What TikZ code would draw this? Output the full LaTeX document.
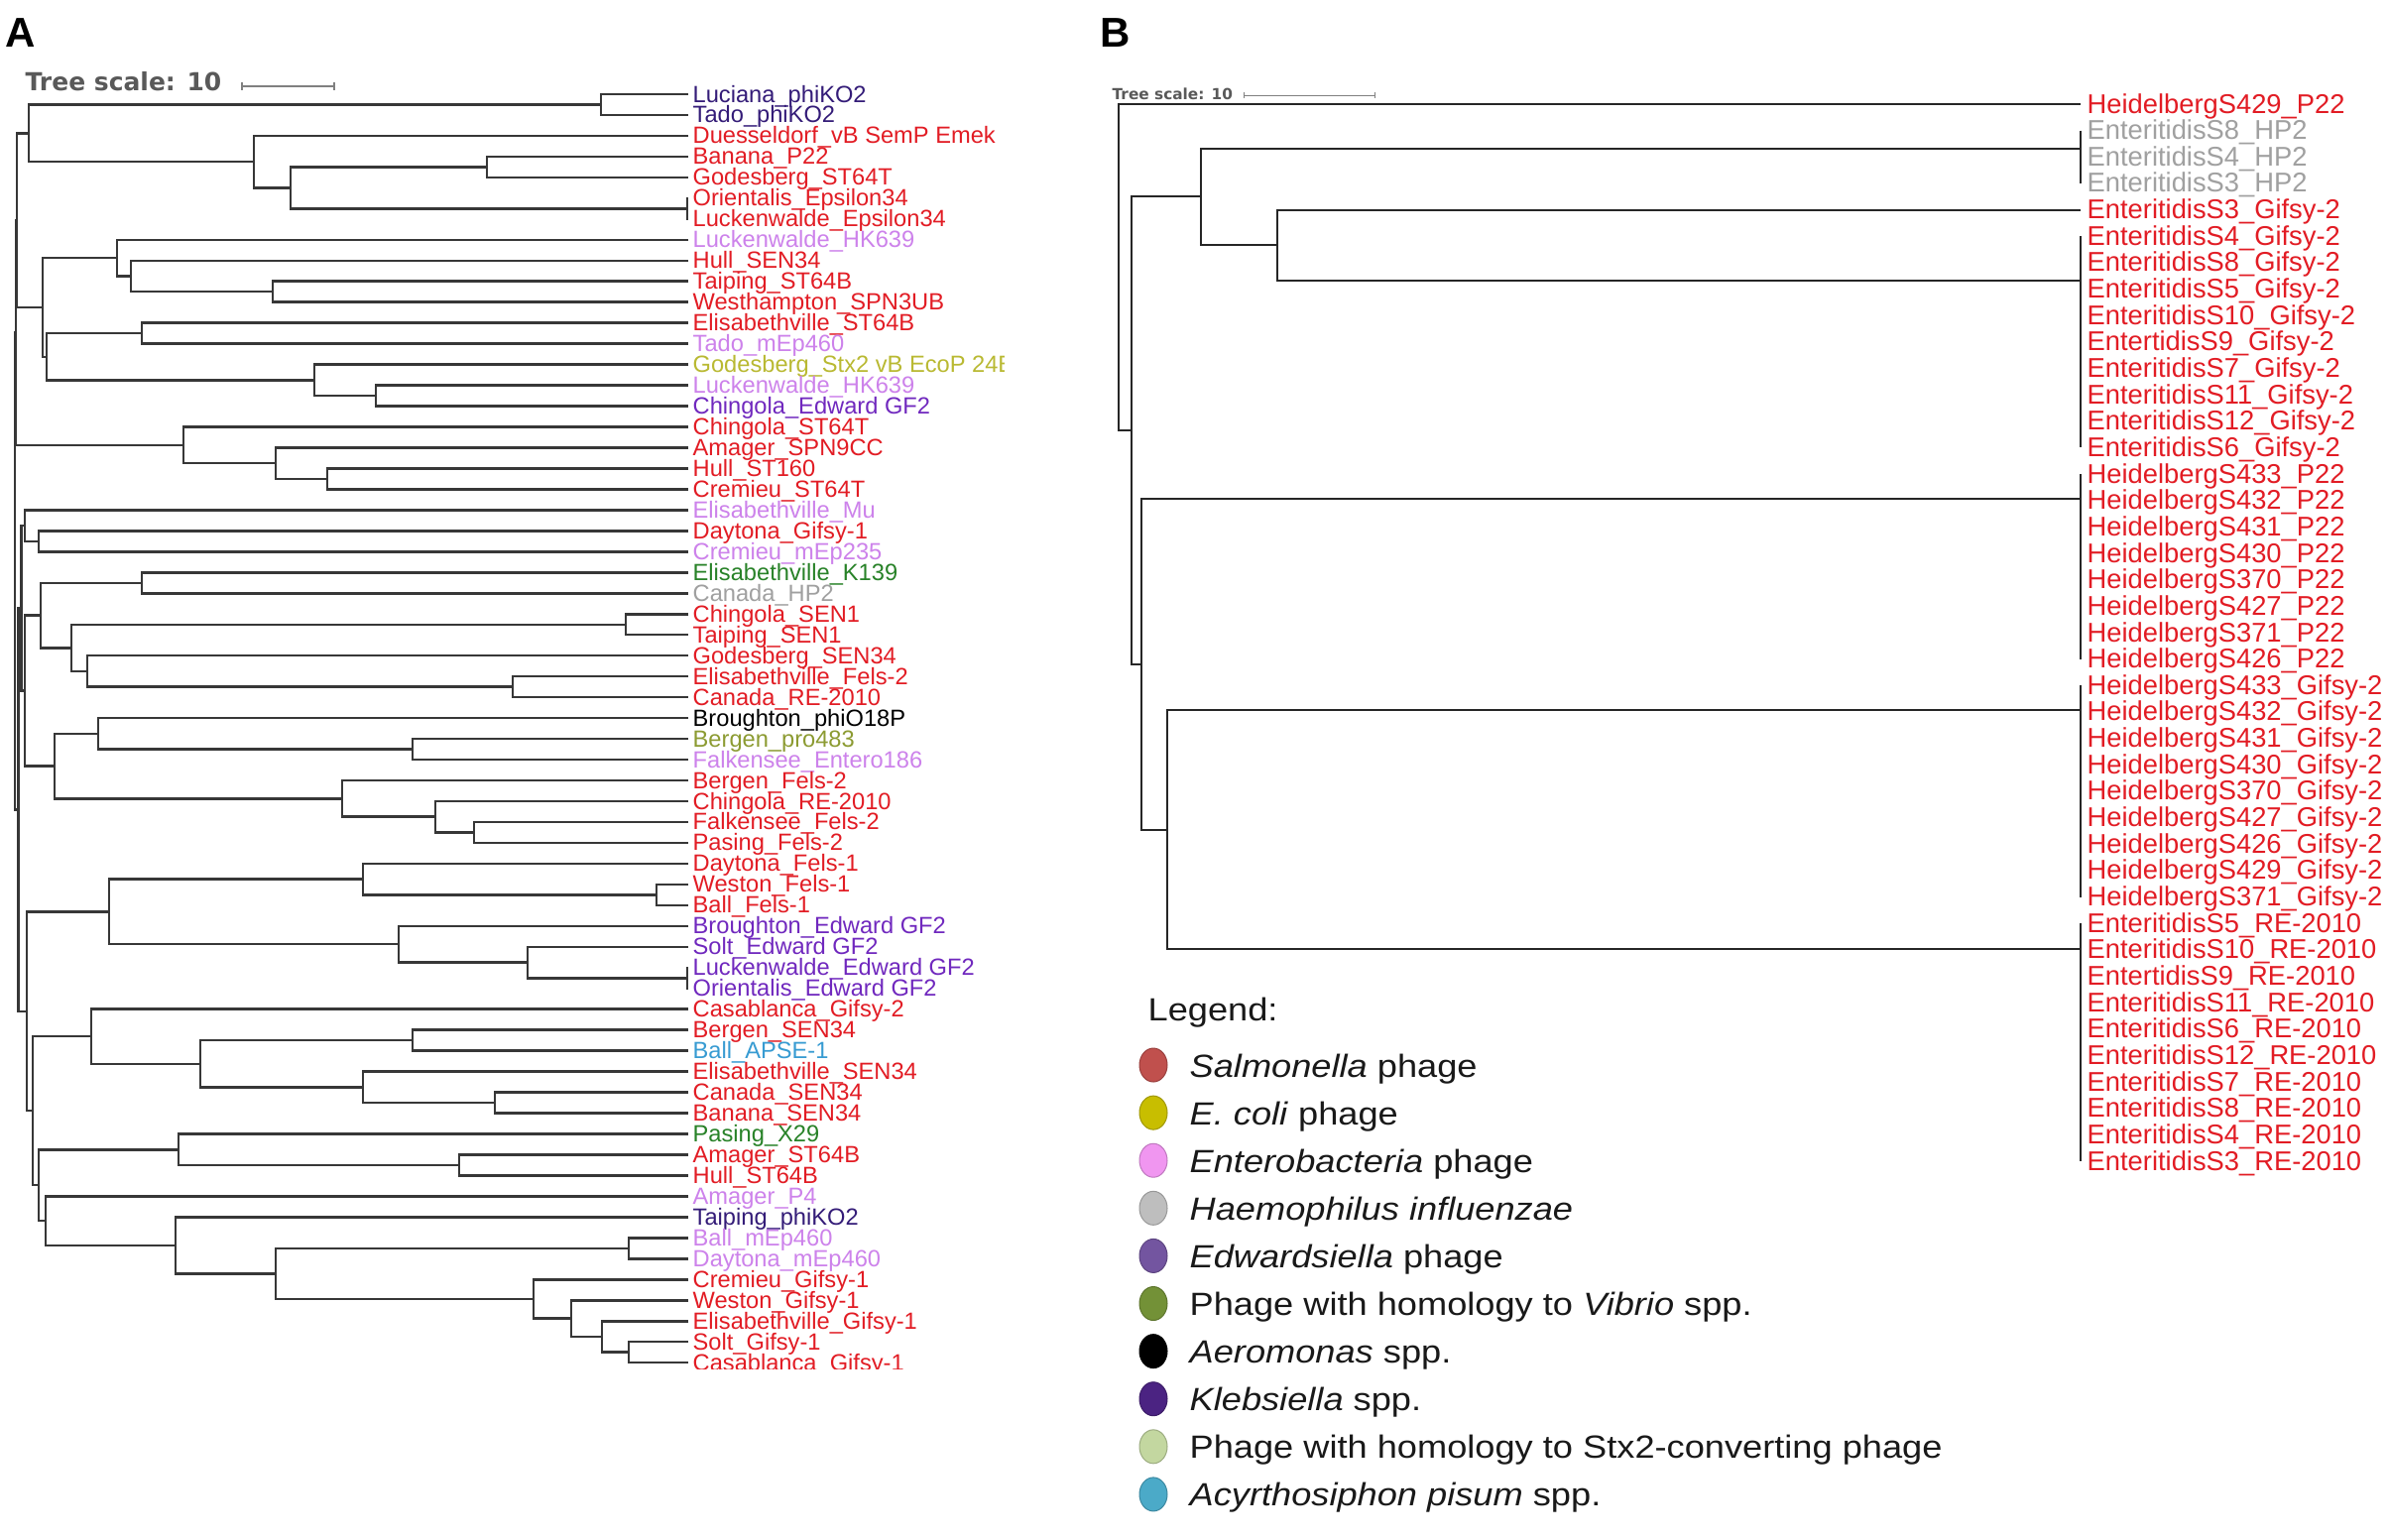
\documentclass[tikz,border=0pt]{standalone}
\usepackage{fontspec}
\setmainfont{Liberation Sans}
\newfontfamily\dejavu{DejaVu Sans}
\newfontfamily\legfont[FakeStretch=1.12]{Liberation Sans}
\usetikzlibrary{calc,shapes.geometric}
\definecolor{sal}{RGB}{226,28,36}
\definecolor{kleb}{RGB}{52,28,120}
\definecolor{ent}{RGB}{205,130,235}
\definecolor{ecol}{RGB}{185,185,50}
\definecolor{oliv}{RGB}{140,155,50}
\definecolor{edw}{RGB}{112,40,190}
\definecolor{vib}{RGB}{40,130,40}
\definecolor{hae}{RGB}{160,160,160}
\definecolor{aps}{RGB}{55,155,210}
\definecolor{brc}{RGB}{55,55,55}
\definecolor{dsal}{RGB}{192,80,77}
\definecolor{deco}{RGB}{200,190,0}
\definecolor{dent}{RGB}{240,150,240}
\definecolor{dhae}{RGB}{190,190,190}
\definecolor{dedw}{RGB}{115,85,160}
\definecolor{dvib}{RGB}{115,145,55}
\definecolor{dkle}{RGB}{75,35,130}
\definecolor{dstx}{RGB}{195,215,160}
\definecolor{dacy}{RGB}{75,170,200}
\tikzset{
 brA/.style={draw=brc, line width=0.75pt},
 brB/.style={draw=black!85, line width=0.6pt},
 labA/.style={anchor=base west, inner sep=0pt, font=\fontsize{7.1}{8}\selectfont},
 labB/.style={anchor=base west, inner sep=0pt, font=\fontsize{8.2}{9}\selectfont},
 legtxt/.style={anchor=base west, inner sep=0pt, text=black!90, font=\legfont\fontsize{9.7}{11}\selectfont},
 dot/.style={ellipse, inner sep=0pt, minimum width=8.4pt, minimum height=10.2pt},
 tsc/.style={anchor=base west, inner sep=0pt, text=black!65, font=\dejavu\bfseries\fontsize{#1}{#1}\selectfont},
 sbar/.style={draw=black!50, line width=0.45pt},
 panel/.style={anchor=base west, inner sep=0pt, font=\bfseries\fontsize{12.6}{14}\selectfont},
}
\newcommand\tnd[4]{\path let \p1=(#3), \p2=(#4) in coordinate (#1) at ({#2*0.3pt},{(\y1+\y2)/2});\draw[brA] (#3) -| (#1) |- (#4);}
\newcommand\lfA[4]{\coordinate (#1) at (694,{95+(#2-1)*20.97});\node[labA,text=#4] (#1t) at (698,{103+(#2-1)*20.97}) {#3};}
\newcommand\lfB[4]{\coordinate (#1) at (2098,{105+(#2-1)*26.65});\node[labB,text=#4] (#1t) at (2104,{114+(#2-1)*26.65}) {#3};}
\newcommand\legrow[4]{\node[dot,fill=#3,draw=#3!80!black,line width=0.3pt] (#1d) at (1163,{1074+(#2-1)*48.1}) {};\node[legtxt] (#1t) at (1199,{1086+(#2-1)*48.1}) {#4};}
\begin{document}
\begin{tikzpicture}[x=0.3pt,y=-0.3pt]
\fill[white] (0,0) rectangle (2408,1552);
\useasboundingbox (0,0) rectangle (2408,1552);
% panel letters
\node[panel] (pA) at (5,47) {A};
\node[panel] (pB) at (1109,47) {B};
% tree scale A
\node[tsc=7.5] (tsA) at (25,91) {Tree scale: 10};
\coordinate (tsA1) at (244,87); \coordinate (tsA2) at (337,87);
\draw[sbar] (tsA1) -- (tsA2);
\draw[sbar] ($(tsA1)+(0,-4)$) -- ($(tsA1)+(0,4)$);
\draw[sbar] ($(tsA2)+(0,-4)$) -- ($(tsA2)+(0,4)$);
% tree scale B
\node[tsc=4.6] (tsB) at (1121,100) {Tree scale: 10};
\coordinate (tsB1) at (1254,96); \coordinate (tsB2) at (1386,96);
\draw[sbar,line width=0.3pt] (tsB1) -- (tsB2);
\draw[sbar,line width=0.3pt] ($(tsB1)+(0,-3)$) -- ($(tsB1)+(0,3)$);
\draw[sbar,line width=0.3pt] ($(tsB2)+(0,-3)$) -- ($(tsB2)+(0,3)$);
% ---------------- panel A leaves
\begin{scope}
\clip (690,55) rectangle (1012,1380);
\lfA{a1}{1}{Luciana\_phiKO2}{kleb}
\lfA{a2}{2}{Tado\_phiKO2}{kleb}
\lfA{a3}{3}{Duesseldorf\_vB SemP Emek}{sal}
\lfA{a4}{4}{Banana\_P22}{sal}
\lfA{a5}{5}{Godesberg\_ST64T}{sal}
\lfA{a6}{6}{Orientalis\_Epsilon34}{sal}
\lfA{a7}{7}{Luckenwalde\_Epsilon34}{sal}
\lfA{a8}{8}{Luckenwalde\_HK639}{ent}
\lfA{a9}{9}{Hull\_SEN34}{sal}
\lfA{a10}{10}{Taiping\_ST64B}{sal}
\lfA{a11}{11}{Westhampton\_SPN3UB}{sal}
\lfA{a12}{12}{Elisabethville\_ST64B}{sal}
\lfA{a13}{13}{Tado\_mEp460}{ent}
\lfA{a14}{14}{Godesberg\_Stx2 vB EcoP 24B}{ecol}
\lfA{a15}{15}{Luckenwalde\_HK639}{ent}
\lfA{a16}{16}{Chingola\_Edward GF2}{edw}
\lfA{a17}{17}{Chingola\_ST64T}{sal}
\lfA{a18}{18}{Amager\_SPN9CC}{sal}
\lfA{a19}{19}{Hull\_ST160}{sal}
\lfA{a20}{20}{Cremieu\_ST64T}{sal}
\lfA{a21}{21}{Elisabethville\_Mu}{ent}
\lfA{a22}{22}{Daytona\_Gifsy-1}{sal}
\lfA{a23}{23}{Cremieu\_mEp235}{ent}
\lfA{a24}{24}{Elisabethville\_K139}{vib}
\lfA{a25}{25}{Canada\_HP2}{hae}
\lfA{a26}{26}{Chingola\_SEN1}{sal}
\lfA{a27}{27}{Taiping\_SEN1}{sal}
\lfA{a28}{28}{Godesberg\_SEN34}{sal}
\lfA{a29}{29}{Elisabethville\_Fels-2}{sal}
\lfA{a30}{30}{Canada\_RE-2010}{sal}
\lfA{a31}{31}{Broughton\_phiO18P}{black}
\lfA{a32}{32}{Bergen\_pro483}{oliv}
\lfA{a33}{33}{Falkensee\_Entero186}{ent}
\lfA{a34}{34}{Bergen\_Fels-2}{sal}
\lfA{a35}{35}{Chingola\_RE-2010}{sal}
\lfA{a36}{36}{Falkensee\_Fels-2}{sal}
\lfA{a37}{37}{Pasing\_Fels-2}{sal}
\lfA{a38}{38}{Daytona\_Fels-1}{sal}
\lfA{a39}{39}{Weston\_Fels-1}{sal}
\lfA{a40}{40}{Ball\_Fels-1}{sal}
\lfA{a41}{41}{Broughton\_Edward GF2}{edw}
\lfA{a42}{42}{Solt\_Edward GF2}{edw}
\lfA{a43}{43}{Luckenwalde\_Edward GF2}{edw}
\lfA{a44}{44}{Orientalis\_Edward GF2}{edw}
\lfA{a45}{45}{Casablanca\_Gifsy-2}{sal}
\lfA{a46}{46}{Bergen\_SEN34}{sal}
\lfA{a47}{47}{Ball\_APSE-1}{aps}
\lfA{a48}{48}{Elisabethville\_SEN34}{sal}
\lfA{a49}{49}{Canada\_SEN34}{sal}
\lfA{a50}{50}{Banana\_SEN34}{sal}
\lfA{a51}{51}{Pasing\_X29}{vib}
\lfA{a52}{52}{Amager\_ST64B}{sal}
\lfA{a53}{53}{Hull\_ST64B}{sal}
\lfA{a54}{54}{Amager\_P4}{ent}
\lfA{a55}{55}{Taiping\_phiKO2}{kleb}
\lfA{a56}{56}{Ball\_mEp460}{ent}
\lfA{a57}{57}{Daytona\_mEp460}{ent}
\lfA{a58}{58}{Cremieu\_Gifsy-1}{sal}
\lfA{a59}{59}{Weston\_Gifsy-1}{sal}
\lfA{a60}{60}{Elisabethville\_Gifsy-1}{sal}
\lfA{a61}{61}{Solt\_Gifsy-1}{sal}
\lfA{a62}{62}{Casablanca\_Gifsy-1}{sal}
\end{scope}
% ---------------- panel A tree
\tnd{kA}{606}{a1}{a2}
\tnd{eps}{693}{a6}{a7}
\tnd{bg}{491}{a4}{a5}
\tnd{bgeps}{293}{bg}{eps}
\tnd{dus}{256}{a3}{bgeps}
\tnd{n29}{29}{kA}{dus}
\tnd{tw}{275}{a10}{a11}
\tnd{h132}{132}{a9}{tw}
\tnd{h118}{118}{a8}{h132}
\tnd{et}{143}{a12}{a13}
\tnd{lc}{379}{a15}{a16}
\tnd{gs}{317}{a14}{lc}
\tnd{n47}{47}{et}{gs}
\tnd{n43}{43}{h118}{n47}
\tnd{n17}{17}{n29}{n43}
\tnd{hc}{330}{a19}{a20}
\tnd{am}{278}{a18}{hc}
\tnd{cst}{185}{a17}{am}
\tnd{U}{16}{n17}{cst}
\tnd{dc}{39}{a22}{a23}
\tnd{n25}{25}{a21}{dc}
\tnd{kh}{143}{a24}{a25}
\tnd{sen1}{631}{a26}{a27}
\tnd{fr}{517}{a29}{a30}
\tnd{n88}{88}{a28}{fr}
\tnd{n72}{72}{sen1}{n88}
\tnd{n41}{41}{kh}{n72}
\tnd{pe}{416}{a32}{a33}
\tnd{n99}{99}{a31}{pe}
\tnd{fp}{478}{a36}{a37}
\tnd{cr}{439}{a35}{fp}
\tnd{bf}{345}{a34}{cr}
\tnd{n55}{55}{n99}{bf}
\tnd{Q}{25}{n41}{n55}
\tnd{P}{21.5}{n25}{Q}
\tnd{wb}{662}{a39}{a40}
\tnd{df}{366}{a38}{wb}
\tnd{lo}{693}{a43}{a44}
\tnd{so}{532}{a42}{lo}
\tnd{be}{402}{a41}{so}
\tnd{n110}{110}{df}{be}
\tnd{ba}{416}{a46}{a47}
\tnd{cb}{499}{a49}{a50}
\tnd{es}{366}{a48}{cb}
\tnd{n202}{202}{ba}{es}
\tnd{n92}{92}{a45}{n202}
\tnd{ah}{463}{a52}{a53}
\tnd{n180}{180}{a51}{ah}
\tnd{bd}{634}{a56}{a57}
\tnd{sc}{634}{a61}{a62}
\tnd{eg}{607}{a60}{sc}
\tnd{wg}{576}{a59}{eg}
\tnd{cg}{538}{a58}{wg}
\tnd{n278}{278}{bd}{cg}
\tnd{n177}{177}{a55}{n278}
\tnd{n46}{46}{a54}{n177}
\tnd{n39b}{39}{n180}{n46}
\tnd{n33}{33}{n92}{n39b}
\tnd{n27}{27}{n110}{n33}
\tnd{R}{18.5}{P}{n27}
\tnd{root}{15}{U}{R}
% ---------------- panel B leaves
\lfB{b1}{1}{HeidelbergS429\_P22}{sal}
\lfB{b2}{2}{EnteritidisS8\_HP2}{hae}
\lfB{b3}{3}{EnteritidisS4\_HP2}{hae}
\lfB{b4}{4}{EnteritidisS3\_HP2}{hae}
\lfB{b5}{5}{EnteritidisS3\_Gifsy-2}{sal}
\lfB{b6}{6}{EnteritidisS4\_Gifsy-2}{sal}
\lfB{b7}{7}{EnteritidisS8\_Gifsy-2}{sal}
\lfB{b8}{8}{EnteritidisS5\_Gifsy-2}{sal}
\lfB{b9}{9}{EnteritidisS10\_Gifsy-2}{sal}
\lfB{b10}{10}{EntertidisS9\_Gifsy-2}{sal}
\lfB{b11}{11}{EnteritidisS7\_Gifsy-2}{sal}
\lfB{b12}{12}{EnteritidisS11\_Gifsy-2}{sal}
\lfB{b13}{13}{EnteritidisS12\_Gifsy-2}{sal}
\lfB{b14}{14}{EnteritidisS6\_Gifsy-2}{sal}
\lfB{b15}{15}{HeidelbergS433\_P22}{sal}
\lfB{b16}{16}{HeidelbergS432\_P22}{sal}
\lfB{b17}{17}{HeidelbergS431\_P22}{sal}
\lfB{b18}{18}{HeidelbergS430\_P22}{sal}
\lfB{b19}{19}{HeidelbergS370\_P22}{sal}
\lfB{b20}{20}{HeidelbergS427\_P22}{sal}
\lfB{b21}{21}{HeidelbergS371\_P22}{sal}
\lfB{b22}{22}{HeidelbergS426\_P22}{sal}
\lfB{b23}{23}{HeidelbergS433\_Gifsy-2}{sal}
\lfB{b24}{24}{HeidelbergS432\_Gifsy-2}{sal}
\lfB{b25}{25}{HeidelbergS431\_Gifsy-2}{sal}
\lfB{b26}{26}{HeidelbergS430\_Gifsy-2}{sal}
\lfB{b27}{27}{HeidelbergS370\_Gifsy-2}{sal}
\lfB{b28}{28}{HeidelbergS427\_Gifsy-2}{sal}
\lfB{b29}{29}{HeidelbergS426\_Gifsy-2}{sal}
\lfB{b30}{30}{HeidelbergS429\_Gifsy-2}{sal}
\lfB{b31}{31}{HeidelbergS371\_Gifsy-2}{sal}
\lfB{b32}{32}{EnteritidisS5\_RE-2010}{sal}
\lfB{b33}{33}{EnteritidisS10\_RE-2010}{sal}
\lfB{b34}{34}{EntertidisS9\_RE-2010}{sal}
\lfB{b35}{35}{EnteritidisS11\_RE-2010}{sal}
\lfB{b36}{36}{EnteritidisS6\_RE-2010}{sal}
\lfB{b37}{37}{EnteritidisS12\_RE-2010}{sal}
\lfB{b38}{38}{EnteritidisS7\_RE-2010}{sal}
\lfB{b39}{39}{EnteritidisS8\_RE-2010}{sal}
\lfB{b40}{40}{EnteritidisS4\_RE-2010}{sal}
\lfB{b41}{41}{EnteritidisS3\_RE-2010}{sal}
% ---------------- panel B tree
\coordinate (bHP) at (2098,149.6);
\coordinate (bGE) at (2098,283);
\coordinate (bD) at (2098,503);
\coordinate (bF1) at (2098,716);
\coordinate (bF2) at (2098,957);
\coordinate (bG) at (1288,247.3);
\coordinate (bB) at (1211,198.45);
\coordinate (bE) at (1177,836.5);
\coordinate (bC) at (1151,669.75);
\coordinate (bA) at (1140.5,434.1);
\coordinate (bR) at (1127.5,269.5);
\draw[brB] (b2) -- (b4);
\draw[brB] (b6) -- (b14);
\draw[brB] (b15) -- (b22);
\draw[brB] (b23) -- (b31);
\draw[brB] (b32) -- (b41);
\draw[brB] (b5) -| (bG) |- (bGE);
\draw[brB] (bHP) -| (bB) |- (bG);
\draw[brB] (bF1) -| (bE) |- (bF2);
\draw[brB] (bD) -| (bC) |- (bE);
\draw[brB] (bB) -| (bA) |- (bC);
\draw[brB] (b1) -| (bR) |- (bA);
% ---------------- legend
\node[legtxt] (legt) at (1157,1029) {Legend:};
\legrow{l1}{1}{dsal}{\textit{Salmonella} phage}
\legrow{l2}{2}{deco}{\textit{E. coli} phage}
\legrow{l3}{3}{dent}{\textit{Enterobacteria} phage}
\legrow{l4}{4}{dhae}{\textit{Haemophilus influenzae}}
\legrow{l5}{5}{dedw}{\textit{Edwardsiella} phage}
\legrow{l6}{6}{dvib}{Phage with homology to \textit{Vibrio} spp.}
\legrow{l7}{7}{black}{\textit{Aeromonas} spp.}
\legrow{l8}{8}{dkle}{\textit{Klebsiella} spp.}
\legrow{l9}{9}{dstx}{Phage with homology to Stx2-converting phage}
\legrow{l10}{10}{dacy}{\textit{Acyrthosiphon pisum} spp.}
\end{tikzpicture}
\end{document}
